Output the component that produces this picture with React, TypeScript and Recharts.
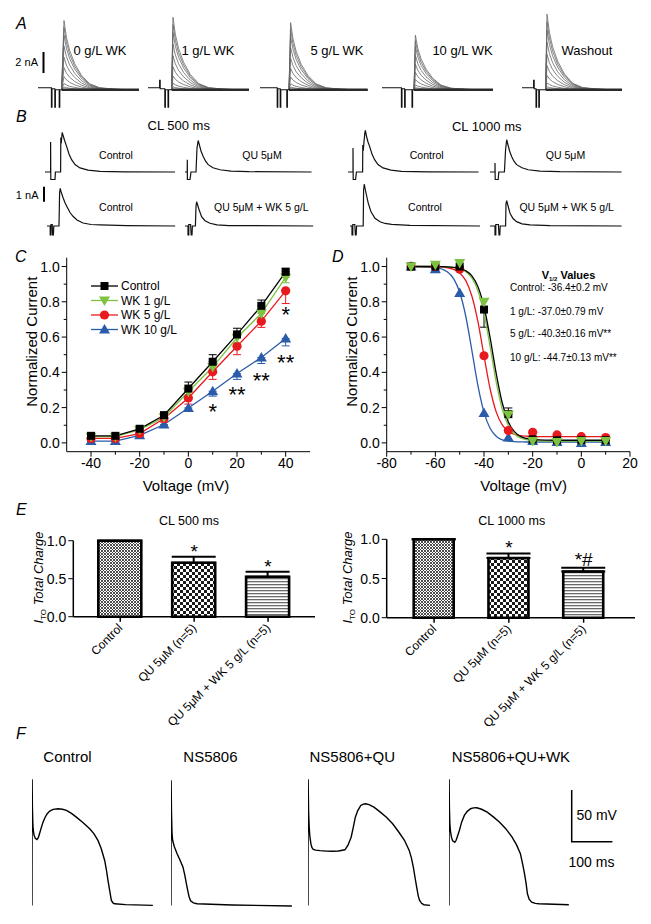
import React from 'react';
import { LineChart, Line, XAxis, YAxis, BarChart, Bar, Cell, ErrorBar, ReferenceDot } from 'recharts';

const FONT = "Arial, 'Liberation Sans', Helvetica, sans-serif";
type Pt = [number, number];
const toPts = (arr: Pt[]) => arr.map(([t, v]) => ({ t, v }));

// ---------------- Panel A (current families, nA vs ms) ----------------
const aLabels = ['0 g/L WK', '1 g/L WK', '5 g/L WK', '10 g/L WK', 'Washout'];
const aPeakAmp = [6.6, 6.9, 6.4, 5.2, 7.2];
const aOnset = [118, 118, 145, 160, 118];
const aPeakTime = [130, 125, 153, 167, 125];
const aEndTime = [505, 505, 538, 555, 500];
const aArtifactTimes = [[67, 84, 106], [58, 84, 100], [86, 101, 134], [97, 113, 150], [58, 70, 84]];
const aFirstSpike = [-1.66, 0.9, -1.66, -1.66, 0.9];
const aFamilyFractions = [1, 0.9, 0.79, 0.63, 0.47, 0.32, 0.19, 0.09, 0.04];
const aDecayTime = [0, 12, 28, 53, 87, 128, 178, 250, 330];
const aDecayShape = [1, 0.76, 0.57, 0.38, 0.21, 0.087, 0.03, 0.01, 0];

// ---------------- Panel B (single traces, nA vs ms) ----------------
const bCtrl500a: Pt[] = [[0,0],[28,0],[28,2.0],[29,-0.5],[50,-0.5],[52,0],[78,0],[79,2.3],[81,1.9],[86,2.64],[89,2.5],[98,2.1],[108,1.71],[120,1.2],[133,0.82],[150,0.5],[175,0.27],[215,0.12],[275,0.04],[400,0.01],[650,0]];
const bQu500a: Pt[] = [[0,0],[11,0],[11.5,0.82],[12,-0.5],[25,-0.5],[30,0],[55,0],[60,1.6],[66,2.1],[72,1.8],[80,1.4],[91,1.04],[103,0.72],[116,0.49],[140,0.28],[175,0.15],[230,0.06],[320,0.02],[633,0]];
const bCtrl500b: Pt[] = [[0,0],[16,0],[16,-0.6],[20,-0.6],[20,0.1],[26,0.1],[28,-0.6],[32,-0.6],[34,0],[60,0],[63,2.2],[66,2.51],[70,2.3],[80,1.9],[90,1.55],[100,1.29],[115,0.9],[130,0.65],[150,0.4],[180,0.2],[220,0.1],[266,0.07],[400,0.02],[641,0]];
const bQuWk500b: Pt[] = [[0,0],[15,0],[15,-0.6],[19,-0.6],[19,0.1],[28,0.1],[31,-0.6],[35,-0.6],[37,0],[52,0],[55,1.3],[58,1.62],[62,1.45],[70,1.1],[83,0.62],[100,0.35],[125,0.18],[160,0.08],[220,0.03],[641,0]];
const bCtrl1000a: Pt[] = [[0,0],[25,0],[25,1.6],[26,-0.5],[38,-0.5],[42,0],[73,0],[74,1.8],[76,1.4],[84,2.6],[87,2.77],[92,2.4],[100,2.0],[108,1.71],[120,1.2],[133,0.82],[150,0.5],[175,0.27],[215,0.12],[267,0.04],[400,0.01],[653,0]];
const bQu1000a: Pt[] = [[0,0],[25,0],[25,0.6],[26,-0.5],[41,-0.5],[44,0],[72,0],[78,1.5],[83.5,2.15],[90,1.8],[98,1.4],[108,1.04],[120,0.72],[133,0.49],[160,0.28],[191,0.15],[250,0.06],[350,0.02],[658,0]];
const bCtrl1000b: Pt[] = [[0,0],[10,0],[10,-0.6],[14,-0.6],[14,0.1],[24,0.1],[27,-0.6],[31,-0.6],[33,0],[66,0],[68,2.4],[71.5,2.8],[74,2.6],[80,2.2],[91.5,1.51],[105,0.95],[125,0.51],[150,0.28],[175,0.17],[208,0.11],[300,0.04],[650,0]];
const bQuWk1000b: Pt[] = [[0,0],[25,0],[25,-0.6],[29,-0.6],[29,0.1],[42,0.1],[45,-0.6],[49,-0.6],[51,0],[78,0],[80,1.5],[83.5,1.69],[88,1.45],[100,0.85],[115,0.5],[133,0.29],[160,0.14],[200,0.07],[300,0.02],[658,0]];
const bRow1Labels = ['Control', 'QU 5μM', 'Control', 'QU 5μM'];
const bRow2Labels = ['Control', 'QU 5μM + WK 5 g/L', 'Control', 'QU 5μM + WK 5 g/L'];

// ---------------- Panel C (I-V) ----------------
const cVoltage = [-40, -30, -20, -10, 0, 10, 20, 30, 40];
const cControl = [0.04, 0.04, 0.08, 0.157, 0.308, 0.46, 0.615, 0.777, 0.97];
const cControlErr = [0.005, 0.005, 0.01, 0.018, 0.037, 0.04, 0.035, 0.033, 0.02];
const cWk1 = [0.035, 0.035, 0.075, 0.145, 0.29, 0.43, 0.596, 0.734, 0.938];
const cWk1Err = [0.005, 0.005, 0.01, 0.015, 0.02, 0.03, 0.03, 0.025, 0.03];
const cWk5 = [0.025, 0.025, 0.053, 0.138, 0.255, 0.403, 0.548, 0.69, 0.862];
const cWk5Err = [0.005, 0.005, 0.01, 0.02, 0.035, 0.043, 0.048, 0.035, 0.072];
const cWk10 = [0.01, 0.01, 0.043, 0.104, 0.198, 0.293, 0.393, 0.484, 0.592];
const cWk10Err = [0.003, 0.003, 0.01, 0.015, 0.018, 0.028, 0.033, 0.034, 0.042];
const cSeriesNames = ['Control', 'WK 1 g/L', 'WK 5 g/L', 'WK 10 g/L'];
const cStars: { x: number; y: number; text: string }[] = [
  { x: 40, y: 0.754, text: '*' }, { x: 40, y: 0.48, text: '**' }, { x: 30, y: 0.379, text: '**' },
  { x: 20, y: 0.30, text: '**' }, { x: 10, y: 0.205, text: '*' },
];

// ---------------- Panel D (inactivation) ----------------
const dV = [-70, -60, -50, -40, -30, -20, -10, 0, 10];
const dCtrl = [1.0, 1.0, 1.0, 0.756, 0.163, 0.02, 0.015, 0.015, 0.015];
const dCtrlErr: Pt[] = [[0,0],[0,0],[0,0],[0.1,0],[0,0.035],[0,0],[0,0],[0,0],[0,0]];
const dWk1 = [1.0, 1.01, 1.02, 0.80, 0.16, 0.01, 0.005, 0.01, 0.01];
const dWk5 = [1.0, 1.0, 0.985, 0.494, 0.07, 0.06, 0.045, 0.035, 0.03];
const dWk10 = [1.0, 0.985, 0.85, 0.17, 0.03, 0.01, 0.005, 0.0, 0.005];
const dFitV = [-70, -60, -55, -52.5, -50, -47.5, -45, -42.5, -40, -37.5, -35, -32.5, -30, -27.5, -25, -22.5, -20, -10, 0, 10];
const dFitCtrl = [1.0, 1.0, 0.998, 0.995, 0.99, 0.976, 0.947, 0.886, 0.772, 0.597, 0.394, 0.226, 0.119, 0.064, 0.037, 0.025, 0.019, 0.015, 0.015, 0.015];
const dFitWk1 = [1.0, 1.0, 0.998, 0.994, 0.987, 0.971, 0.935, 0.863, 0.734, 0.546, 0.346, 0.19, 0.097, 0.05, 0.028, 0.018, 0.013, 0.01, 0.01, 0.01];
const dFitWk5 = [1.0, 0.999, 0.993, 0.984, 0.963, 0.92, 0.833, 0.687, 0.493, 0.307, 0.176, 0.102, 0.065, 0.048, 0.041, 0.038, 0.036, 0.035, 0.035, 0.035];
const dFitWk10 = [1.0, 0.994, 0.969, 0.931, 0.854, 0.718, 0.525, 0.325, 0.173, 0.083, 0.038, 0.017, 0.01, 0.007, 0.006, 0.005, 0.005, 0.005, 0.005, 0.005];
const dTextLines = ['Control: -36.4±0.2 mV', '1 g/L: -37.0±0.79 mV', '5 g/L: -40.3±0.16 mV**', '10 g/L: -44.7±0.13 mV**'];

// ---------------- Panel E (bars) ----------------
const eCats = ['Control', 'QU 5μM (n=5)', 'QU 5μM + WK 5 g/L (n=5)'];
const e500 = [1.0, 0.71, 0.526];
const e500Err = [0, 0.08, 0.066];
const e500Marks = ['', '*', '*'];
const e1000 = [1.0, 0.76, 0.59];
const e1000Err = [0, 0.06, 0.048];
const e1000Marks = ['', '*', '*#'];

// ---------------- Panel F (action potentials, mV vs ms) ----------------
const fLabels = ['Control', 'NS5806', 'NS5806+QU', 'NS5806+QU+WK'];
const fControl: Pt[] = [[0,-85],[0.3,37],[1,10],[2,-5],[3,-12],[5,-17],[8,-20],[12.3,-21.2],[15.5,-19.5],[19,-15],[23,-9.5],[27,-4.5],[32,0],[37,3.5],[43.5,6.2],[52,7.9],[64,8.5],[75,8],[84.5,6.9],[97,4],[109,0.4],[125,-4.8],[141.8,-10.8],[152,-15.5],[162,-22.1],[170,-30],[178.6,-41.5],[183,-51],[186.7,-60.8],[191,-71],[195,-80.2],[199,-82.6],[203,-83.4],[230,-84.2],[297,-85]];
const fNS: Pt[] = [[0,-85],[0.3,36],[1.2,5],[2.5,-15],[4,-22],[8,-28],[15,-35],[22,-41],[29.5,-48],[34,-56],[39.3,-67],[44,-76],[48,-80.5],[55,-82.5],[64,-83.4],[150,-84.6],[297,-85.5]];
const fNSQU: Pt[] = [[0,-85],[0.3,37],[1.5,5],[3,-10],[4.5,-18],[7,-25],[9.5,-29],[13,-30.8],[19,-31.5],[29.6,-32],[45,-32.5],[60,-32.6],[75,-32.3],[90.6,-31.2],[98,-27],[106,-19],[111,-10],[116.3,0.3],[122,6.5],[129.6,11.7],[136,13],[141.8,13.3],[150,12.5],[162,10],[177,5.5],[192.7,0.3],[208,-6],[223,-14],[237,-22],[248.7,-31.8],[254,-39],[258.8,-48],[263,-58],[267,-67.3],[271,-76],[274,-80],[279,-83],[284.5,-84.3],[300,-85]];
const fNSQUWK: Pt[] = [[0,-85],[0.3,37],[1,10],[2,-5],[3.5,-13],[6,-19],[9,-22.5],[14.3,-23.9],[17.5,-22],[20,-19],[25.5,-12.5],[31,-4.5],[37.7,2],[45,6],[53,8.5],[60,9.3],[68.3,9.4],[80,8],[93.8,5.2],[109,0.6],[124.4,-4.5],[140,-11],[155,-19],[166,-26.5],[175.4,-35],[181,-45],[185.6,-54.4],[189.5,-64],[192.7,-73.7],[197,-79],[203,-81.8],[212,-83],[221,-83.4],[294.4,-84.3]];

// ---------------- helpers ----------------
const BLUE = '#2a5caa';
const RED = '#e8191f';
const GREEN = '#7ec242';
const BLACK = '#000';

type LineSpec = { data: { t: number; v: number }[]; stroke: string; width: number };

function TraceChart({ left, top, width, height, xDomain, yDomain, lines }: { left: number; top: number; width: number; height: number; xDomain: [number, number]; yDomain: [number, number]; lines: LineSpec[] }) {
  return (
    <div style={{ position: 'absolute', left, top, width, height }}>
      <LineChart width={width} height={height} margin={{ top: 0, right: 0, bottom: 0, left: 0 }}>
        <XAxis type="number" dataKey="t" domain={xDomain} hide allowDataOverflow />
        <YAxis type="number" domain={yDomain} hide allowDataOverflow />
        {lines.map((l, i) => (
          <Line key={i} data={l.data} dataKey="v" type="linear" stroke={l.stroke} strokeWidth={l.width} dot={false} activeDot={false} isAnimationActive={false} />
        ))}
      </LineChart>
    </div>
  );
}

function aGroupLines(g: number): LineSpec[] {
  const amp = aPeakAmp[g], on = aOnset[g], pk = aPeakTime[g], end = aEndTime[g];
  const [s1, s2, s3] = aArtifactTimes[g];
  const first = aFirstSpike[g];
  const art: Pt[] = [[0, 0.2], [s1, 0.2], [s1, first], [s1 + 3, first], [s1 + 3, 0.1], [s2, 0.1], [s2, -1.66], [s2 + 3, -1.66], [s2 + 3, 0], [s3, 0], [s3, -1.66], [s3 + 3, -1.66], [s3 + 3, 0], [on, 0]];
  const fam = aFamilyFractions.map((f) => {
    const pts: Pt[] = [[on, 0]];
    aDecayTime.forEach((dt, k) => pts.push([pk + dt, amp * f * aDecayShape[k]]));
    pts.push([end, 0]);
    return pts;
  });
  return [
    ...fam.map((p) => ({ data: toPts(p), stroke: '#666', width: 0.8 })),
    { data: toPts(art), stroke: '#111', width: 1.1 },
    { data: toPts([[on, 0], [end, 0]]), stroke: '#2a2a2a', width: 2.4 },
  ];
}

const isMajor = (majors: number[], v: number) => majors.some((m) => Math.abs(m - v) < 1e-9);

const xTick = (majors: number[], fs: number, dy: number) => (p: any) => {
  const { x, y, payload } = p;
  const v = payload.value;
  const major = isMajor(majors, v);
  return (
    <g>
      <line x1={x} x2={x} y1={y} y2={y + (major ? 5 : 3)} stroke="#000" strokeWidth={1} />
      {major && (
        <text x={x} y={y + dy} textAnchor="middle" fontSize={fs} fontFamily={FONT} fill="#000">{v}</text>
      )}
    </g>
  );
};

const yTick = (majors: number[], fs: number) => (p: any) => {
  const { x, y, payload } = p;
  const v = payload.value;
  const major = isMajor(majors, v);
  return (
    <g>
      <line x1={x} x2={x - (major ? 5 : 3)} y1={y} y2={y} stroke="#000" strokeWidth={1} />
      {major && (
        <text x={x - 7} y={y + fs * 0.36} textAnchor="end" fontSize={fs} fontFamily={FONT} fill="#000">{Number(v).toFixed(1)}</text>
      )}
    </g>
  );
};

const marker = (shape: string, color: string) => (p: any) => {
  const { cx, cy, index } = p;
  const k = `m${index}`;
  if (cx == null || cy == null || isNaN(cx) || isNaN(cy)) return <g key={k} />;
  if (shape === 'square') return <rect key={k} x={cx - 4} y={cy - 4} width={8} height={8} fill={color} />;
  if (shape === 'circle') return <circle key={k} cx={cx} cy={cy} r={4.6} fill={color} />;
  if (shape === 'down') return <polygon key={k} points={`${cx - 5.5},${cy - 4} ${cx + 5.5},${cy - 4} ${cx},${cy + 5.5}`} fill={color} />;
  return <polygon key={k} points={`${cx - 5.5},${cy + 4} ${cx + 5.5},${cy + 4} ${cx},${cy - 5.5}`} fill={color} />;
};

const starShape = (text: string, size: number) => (p: any) => (
  <text x={p.cx} y={p.cy + size * 0.55} textAnchor="middle" fontSize={size} fontFamily={FONT} fill="#000">{text}</text>
);

const TICKS_Y = [0, 0.1, 0.2, 0.3, 0.4, 0.5, 0.6, 0.7, 0.8, 0.9, 1.0];
const MAJ_Y = [0, 0.2, 0.4, 0.6, 0.8, 1.0];

function PanelC() {
  const data = cVoltage.map((t, i) => ({
    t,
    ctrl: cControl[i], ctrlErr: [0, cControlErr[i]],
    wk1: cWk1[i], wk1Err: [cWk1Err[i], 0],
    wk5: cWk5[i], wk5Err: [cWk5Err[i], 0],
    wk10: cWk10[i], wk10Err: [cWk10Err[i], 0],
  }));
  return (
    <div style={{ position: 'absolute', left: 0, top: 240 }}>
      <LineChart width={330} height={260} data={data} margin={{ top: 17.7, right: 20, bottom: 8.3, left: 0 }}>
        <XAxis type="number" dataKey="t" domain={[-50, 50]} ticks={[-40, -30, -20, -10, 0, 10, 20, 30, 40]} interval={0} height={40}
          tick={xTick([-40, -20, 0, 20, 40], 14, 16)} tickLine={false} tickSize={0} tickMargin={0} axisLine={{ stroke: '#000' }} allowDataOverflow />
        <YAxis type="number" domain={[-0.05, 1.05]} ticks={TICKS_Y} interval={0} width={66.7}
          tick={yTick(MAJ_Y, 14)} tickLine={false} tickSize={0} tickMargin={0} axisLine={{ stroke: '#000' }} allowDataOverflow />
        <Line dataKey="wk10" stroke={BLUE} strokeWidth={1.3} dot={marker('up', BLUE)} activeDot={false} isAnimationActive={false}>
          <ErrorBar dataKey="wk10Err" width={4} stroke={BLUE} strokeWidth={1} direction="y" />
        </Line>
        <Line dataKey="wk5" stroke={RED} strokeWidth={1.3} dot={marker('circle', RED)} activeDot={false} isAnimationActive={false}>
          <ErrorBar dataKey="wk5Err" width={4} stroke={RED} strokeWidth={1} direction="y" />
        </Line>
        <Line dataKey="wk1" stroke={GREEN} strokeWidth={1.3} dot={marker('down', GREEN)} activeDot={false} isAnimationActive={false}>
          <ErrorBar dataKey="wk1Err" width={4} stroke={GREEN} strokeWidth={1} direction="y" />
        </Line>
        <Line dataKey="ctrl" stroke={BLACK} strokeWidth={1.3} dot={marker('square', BLACK)} activeDot={false} isAnimationActive={false}>
          <ErrorBar dataKey="ctrlErr" width={4} stroke={BLACK} strokeWidth={1} direction="y" />
        </Line>
        {cStars.map((s, i) => (
          <ReferenceDot key={i} x={s.x} y={s.y} r={0} shape={starShape(s.text, 22)} />
        ))}
      </LineChart>
    </div>
  );
}

function PanelD() {
  const pts = (ys: number[], err?: Pt[]) => dV.map((t, i) => ({ t, v: ys[i], e: err ? err[i] : [0, 0] }));
  const fit = (ys: number[]) => dFitV.map((t, i) => ({ t, v: ys[i] }));
  return (
    <div style={{ position: 'absolute', left: 320, top: 240 }}>
      <LineChart width={331} height={260} margin={{ top: 17.7, right: 21, bottom: 8.3, left: 0 }}>
        <XAxis type="number" dataKey="t" domain={[-80, 20]} ticks={[-80, -70, -60, -50, -40, -30, -20, -10, 0, 10, 20]} interval={0} height={40}
          tick={xTick([-80, -60, -40, -20, 0, 20], 14, 16)} tickLine={false} tickSize={0} tickMargin={0} axisLine={{ stroke: '#000' }} allowDataOverflow />
        <YAxis type="number" domain={[-0.05, 1.05]} ticks={TICKS_Y} interval={0} width={66.7}
          tick={yTick(MAJ_Y, 14)} tickLine={false} tickSize={0} tickMargin={0} axisLine={{ stroke: '#000' }} allowDataOverflow />
        <Line data={pts(dWk10)} dataKey="v" stroke="none" dot={marker('up', BLUE)} activeDot={false} isAnimationActive={false} />
        <Line data={pts(dWk5)} dataKey="v" stroke="none" dot={marker('circle', RED)} activeDot={false} isAnimationActive={false} />
        <Line data={pts(dCtrl, dCtrlErr)} dataKey="v" stroke="none" dot={marker('square', BLACK)} activeDot={false} isAnimationActive={false}>
          <ErrorBar dataKey="e" width={4} stroke={BLACK} strokeWidth={1} direction="y" />
        </Line>
        <Line data={pts(dWk1)} dataKey="v" stroke="none" dot={marker('down', GREEN)} activeDot={false} isAnimationActive={false} />
        <Line data={fit(dFitWk10)} dataKey="v" type="monotone" stroke={BLUE} strokeWidth={1.3} dot={false} activeDot={false} isAnimationActive={false} />
        <Line data={fit(dFitWk5)} dataKey="v" type="monotone" stroke={RED} strokeWidth={1.3} dot={false} activeDot={false} isAnimationActive={false} />
        <Line data={fit(dFitWk1)} dataKey="v" type="monotone" stroke={GREEN} strokeWidth={1.3} dot={false} activeDot={false} isAnimationActive={false} />
        <Line data={fit(dFitCtrl)} dataKey="v" type="monotone" stroke={BLACK} strokeWidth={1.3} dot={false} activeDot={false} isAnimationActive={false} />
      </LineChart>
    </div>
  );
}

const eRotTick = (p: any) => {
  const { x, y, payload } = p;
  const ax = x + 3, ay = y + 12;
  return (
    <g>
      <line x1={x} x2={x} y1={y} y2={y + 5} stroke="#000" strokeWidth={1.5} />
      <text x={ax} y={ay} textAnchor="end" transform={`rotate(-45 ${ax} ${ay})`} fontSize={12} fontFamily={FONT} fill="#000">{payload.value}</text>
    </g>
  );
};

function PanelE({ id, left, top, width, yAxisWidth, marginTop, marginRight, plotH, padL, padR, barSize, values, errs, marks }: any) {
  const data = eCats.map((cat, i) => ({ cat, value: values[i], err: [0, errs[i]] }));
  const fills = [`url(#${id}a)`, `url(#${id}b)`, `url(#${id}c)`];
  const h = 230;
  return (
    <div style={{ position: 'absolute', left, top }}>
      <BarChart width={width} height={h} data={data} margin={{ top: marginTop, right: marginRight, bottom: 0, left: 0 }} barSize={barSize}>
        <defs>
          <pattern id={`${id}a`} width="3" height="3" patternUnits="userSpaceOnUse">
            <rect width="3" height="3" fill="#fff" />
            <path d="M0,0 L3,3 M3,0 L0,3" stroke="#3a3a3a" strokeWidth="0.9" />
          </pattern>
          <pattern id={`${id}b`} width="6" height="6" patternUnits="userSpaceOnUse">
            <rect width="6" height="6" fill="#fff" />
            <rect width="3" height="3" fill="#1a1a1a" />
            <rect x="3" y="3" width="3" height="3" fill="#1a1a1a" />
          </pattern>
          <pattern id={`${id}c`} width="4" height="3" patternUnits="userSpaceOnUse">
            <rect width="4" height="3" fill="#fff" />
            <rect width="4" height="1.3" fill="#6a6a6a" />
          </pattern>
        </defs>
        <XAxis dataKey="cat" type="category" interval={0} height={h - marginTop - plotH} padding={{ left: padL, right: padR }}
          tick={eRotTick} tickLine={false} tickSize={0} tickMargin={0} axisLine={{ stroke: '#000', strokeWidth: 1.5 }} />
        <YAxis type="number" domain={[0, 1]} ticks={[0, 0.5, 1]} interval={0} width={yAxisWidth}
          tick={yTick([0, 0.5, 1], 14)} tickLine={false} tickSize={0} tickMargin={0} axisLine={{ stroke: '#000', strokeWidth: 1.5 }} />
        <Bar dataKey="value" isAnimationActive={false}>
          {data.map((d, i) => (
            <Cell key={i} fill={fills[i]} stroke="#000" strokeWidth={2.6} />
          ))}
          <ErrorBar dataKey="err" width={22} stroke="#000" strokeWidth={2} direction="y" />
        </Bar>
        {marks.map((m: string, i: number) => m ? (
          <ReferenceDot key={i} x={eCats[i]} y={values[i] + errs[i] + (m.includes('#') ? 0.15 : 0.12)} r={0} shape={starShape(m, 19)} />
        ) : null)}
      </BarChart>
    </div>
  );
}

function Overlay() {
  const t = (x: number, y: number, s: string, fs: number, anchor: string = 'start', extra: any = {}) => (
    <text x={x} y={y} fontSize={fs} fontFamily={FONT} textAnchor={anchor as any} fill="#000" {...extra}>{s}</text>
  );
  const legendY = [286, 300.5, 315, 329.5];
  const legendColors = [BLACK, GREEN, RED, BLUE];
  const legendShapes = ['square', 'down', 'circle', 'up'];
  return (
    <svg width={651} height={924} style={{ position: 'absolute', left: 0, top: 0 }}>
      {t(16, 29, 'A', 16, 'start', { fontStyle: 'italic' })}
      {t(16, 122, 'B', 16, 'start', { fontStyle: 'italic' })}
      {t(15, 262, 'C', 16, 'start', { fontStyle: 'italic' })}
      {t(332, 262, 'D', 16, 'start', { fontStyle: 'italic' })}
      {t(16, 515, 'E', 16, 'start', { fontStyle: 'italic' })}
      {t(16, 739, 'F', 16, 'start', { fontStyle: 'italic' })}

      {[100, 208, 337, 462.5, 587].map((cx, i) => <g key={i}>{t(cx, 55, aLabels[i], 13, 'middle')}</g>)}
      {t(38, 66, '2 nA', 11, 'end')}
      <line x1={43.5} x2={43.5} y1={52} y2={73} stroke="#000" strokeWidth={2} />

      {t(178.7, 129.7, 'CL 500 ms', 13, 'middle')}
      {t(486.7, 131.3, 'CL 1000 ms', 13, 'middle')}
      {[116, 262, 426.7, 565.5].map((cx, i) => <g key={`r1${i}`}>{t(cx, 158.8, bRow1Labels[i], 10.5, 'middle')}</g>)}
      {[116, 261.3, 425, 566.7].map((cx, i) => <g key={`r2${i}`}>{t(cx, 210.5, bRow2Labels[i], 10.5, 'middle')}</g>)}
      {t(38.5, 199, '1 nA', 11, 'end')}
      <line x1={44} x2={44} y1={186.7} y2={201.7} stroke="#000" strokeWidth={2} />

      <text transform="translate(37,341.7) rotate(-90)" fontSize={15} fontFamily={FONT} textAnchor="middle">Normalized Current</text>
      {t(186, 490.5, 'Voltage (mV)', 15, 'middle')}
      {legendY.map((y, i) => (
        <g key={`lg${i}`}>
          <line x1={91} x2={118} y1={y} y2={y} stroke={legendColors[i]} strokeWidth={1.3} />
          {marker(legendShapes[i], legendColors[i])({ cx: 104.5, cy: y, index: i })}
          {t(121, y + 4.3, cSeriesNames[i], 12)}
        </g>
      ))}

      <text transform="translate(357,341.7) rotate(-90)" fontSize={15} fontFamily={FONT} textAnchor="middle">Normalized Current</text>
      {t(523.7, 490.5, 'Voltage (mV)', 15, 'middle')}
      <text x={541.7} y={279} fontSize={11} fontFamily={FONT} fontWeight="bold">V<tspan fontSize={6} dy={2}>1/2</tspan><tspan dy={-2}> Values</tspan></text>
      {[291, 315, 337, 361].map((y, i) => <g key={`dt${i}`}>{t(510, y, dTextLines[i], 10)}</g>)}

      {t(189, 524.5, 'CL 500 ms', 12.5, 'middle')}
      {t(511.7, 524.5, 'CL 1000 ms', 12.5, 'middle')}
      {[38, 347].map((cx, i) => (
        <text key={`el${i}`} transform={`translate(${cx + 4.6},577.5) rotate(-90)`} fontSize={13} fontFamily={FONT} textAnchor="middle" fontStyle="italic">
          I<tspan fontSize={8} dy={3} fontStyle="normal">TO</tspan><tspan dy={-3}> Total Charge</tspan>
        </text>
      ))}

      {[43.3, 183.3, 309.5, 451.7].map((x, i) => <g key={`fl${i}`}>{t(x, 761.5, fLabels[i], 15)}</g>)}
      <polyline points="571.7,790 571.7,841.7 612.4,841.7" fill="none" stroke="#000" strokeWidth={1.5} />
      {t(576.5, 820, '50 mV', 14)}
      {t(568.5, 867, '100 ms', 14)}
    </svg>
  );
}

export default function App() {
  const aStarts = [38.3, 148.3, 260, 382.3, 521.7];
  const bRow1 = [bCtrl500a, bQu500a, bCtrl1000a, bQu1000a];
  const bRow2 = [bCtrl500b, bQuWk500b, bCtrl1000b, bQuWk1000b];
  const bStarts1 = [45, 185, 348.3, 490];
  const bStarts2 = [46.7, 185, 350, 490];
  const fTraces = [fControl, fNS, fNSQU, fNSQUWK];
  const fStarts = [32.3, 170.7, 308.3, 449.4];
  return (
    <div style={{ position: 'absolute', left: 0, top: 0, width: 651, height: 924, background: '#fff', overflow: 'hidden', fontFamily: FONT }}>
      {aStarts.map((x, g) => (
        <TraceChart key={`a${g}`} left={x} top={9.5} width={112} height={100.8} xDomain={[0, 560]} yDomain={[-2, 7.6]} lines={aGroupLines(g)} />
      ))}
      {bRow1.map((tr, i) => (
        <TraceChart key={`b1${i}`} left={bStarts1[i]} top={172.3 - 48} width={136} height={63} xDomain={[0, 680]} yDomain={[-1, 3.2]}
          lines={[{ data: toPts(tr), stroke: '#111', width: 1.2 }]} />
      ))}
      {bRow2.map((tr, i) => (
        <TraceChart key={`b2${i}`} left={bStarts2[i]} top={226 - 48} width={136} height={63} xDomain={[0, 680]} yDomain={[-1, 3.2]}
          lines={[{ data: toPts(tr), stroke: '#111', width: 1.2 }]} />
      ))}
      <PanelC />
      <PanelD />
      <PanelE id="e5" left={0} top={530} width={330} yAxisWidth={73.3} marginTop={10.7} marginRight={15} plotH={76} padL={10} padR={10} barSize={43}
        values={e500} errs={e500Err} marks={e500Marks} />
      <PanelE id="e10" left={320} top={530} width={331} yAxisWidth={66.7} marginTop={9.3} marginRight={16} plotH={78.4} padL={10} padR={14} barSize={40}
        values={e1000} errs={e1000Err} marks={e1000Marks} />
      {fTraces.map((tr, i) => (
        <TraceChart key={`f${i}`} left={fStarts[i]} top={770.6} width={122.1} height={139.6} xDomain={[0, 300]} yDomain={[-90, 45]}
          lines={[{ data: toPts(tr), stroke: '#000', width: 1.4 }]} />
      ))}
      <Overlay />
    </div>
  );
}
